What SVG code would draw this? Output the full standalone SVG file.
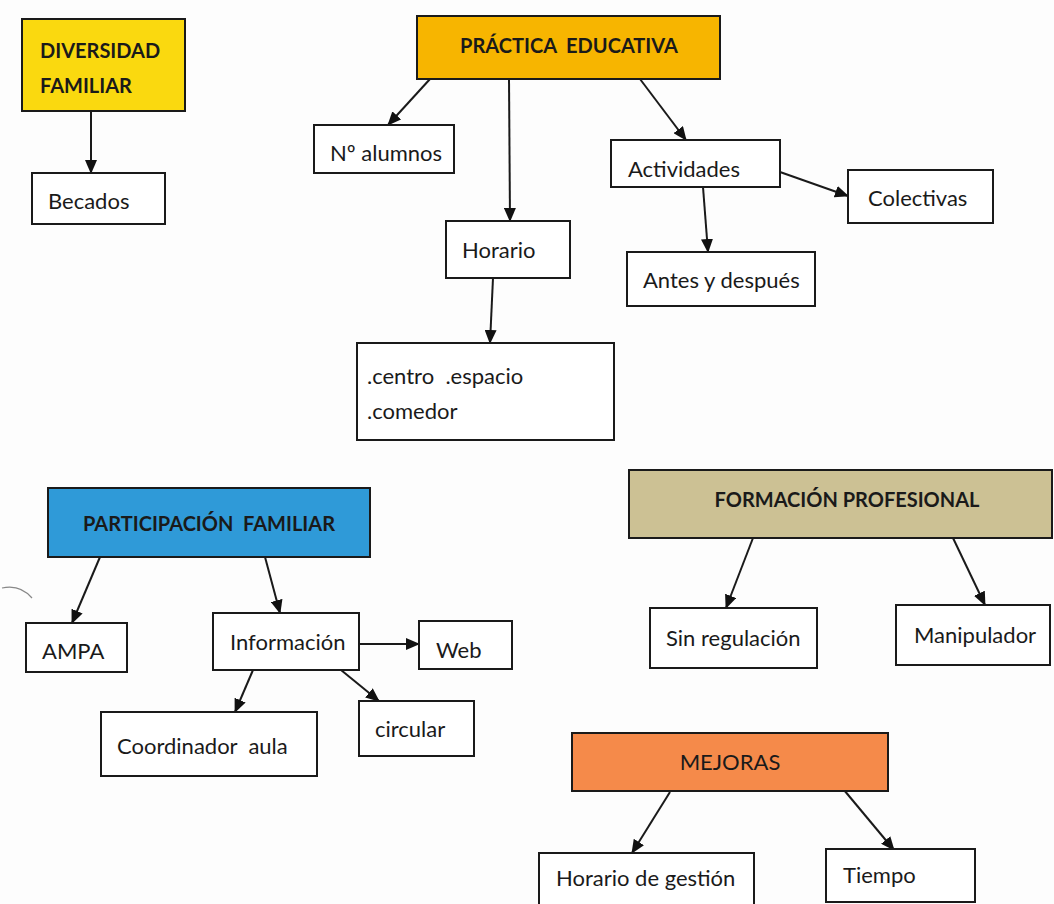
<svg xmlns="http://www.w3.org/2000/svg" width="1054" height="904" viewBox="0 0 1054 904">
<defs>
<marker id="ah" markerWidth="14" markerHeight="12" refX="13" refY="6" orient="auto" markerUnits="userSpaceOnUse">
<path d="M0,0 L14,6 L0,12 Z" fill="#111"/>
</marker>
<style>
.box{fill:#fff;stroke:#1a1a1a;stroke-width:2}
.t{font-family:Lato,"Open Sans","Liberation Sans",sans-serif;font-size:22px;fill:#1a1a1a;white-space:pre}
.h{font-family:Lato,"Open Sans","Liberation Sans",sans-serif;font-size:20px;font-weight:bold;fill:#1a1a1a;white-space:pre}
.a{stroke:#1a1a1a;stroke-width:2;fill:none;marker-end:url(#ah)}
</style>
</defs>
<rect width="1054" height="904" fill="#fdfdfd"/>
<path d="M2,588 Q20,584 32,598" stroke="#888" stroke-width="1.2" fill="none"/>
<g id="connectors">
<line class="a" x1="91" y1="111" x2="91" y2="173"/>
<line class="a" x1="430" y1="79" x2="388" y2="125"/>
<line class="a" x1="509" y1="79" x2="510" y2="221"/>
<line class="a" x1="640" y1="79" x2="686" y2="140"/>
<line class="a" x1="780" y1="172" x2="848" y2="196"/>
<line class="a" x1="703" y1="187" x2="708" y2="252"/>
<line class="a" x1="493" y1="278" x2="490" y2="343"/>
<line class="a" x1="100" y1="557" x2="72" y2="623"/>
<line class="a" x1="265" y1="557" x2="280" y2="613"/>
<line class="a" x1="359" y1="644" x2="419" y2="644"/>
<line class="a" x1="253" y1="670" x2="235" y2="712"/>
<line class="a" x1="341" y1="670" x2="379" y2="701"/>
<line class="a" x1="753" y1="538" x2="726" y2="608"/>
<line class="a" x1="953" y1="538" x2="985" y2="605"/>
<line class="a" x1="670" y1="792" x2="632" y2="853"/>
<line class="a" x1="844" y1="790" x2="894" y2="850"/>
</g>
<g id="diversidad">
<rect x="22" y="19" width="163" height="92" fill="#FAD90F" stroke="#1a1a1a" stroke-width="2"/>
<text class="h" x="40" y="58">DIVERSIDAD</text>
<text class="h" x="40" y="93">FAMILIAR</text>
</g>
<g id="becados">
<rect class="box" x="32" y="173" width="133" height="51"/>
<text class="t" x="48" y="209">Becados</text>
</g>
<g id="practica">
<rect x="417" y="16" width="303" height="63" fill="#F7B500" stroke="#1a1a1a" stroke-width="2"/>
<text class="h" x="569" y="53" text-anchor="middle">PRÁCTICA  EDUCATIVA</text>
</g>
<g id="alumnos">
<rect class="box" x="314" y="125" width="140" height="48"/>
<text class="t" x="330" y="161">Nº alumnos</text>
</g>
<g id="actividades">
<rect class="box" x="611" y="140" width="169" height="47"/>
<text class="t" x="628" y="177">Actividades</text>
</g>
<g id="colectivas">
<rect class="box" x="848" y="170" width="145" height="53"/>
<text class="t" x="868" y="206">Colectivas</text>
</g>
<g id="antes">
<rect class="box" x="627" y="252" width="188" height="54"/>
<text class="t" x="643" y="288">Antes y después</text>
</g>
<g id="horario">
<rect class="box" x="446" y="221" width="124" height="57"/>
<text class="t" x="462" y="258">Horario</text>
</g>
<g id="centro">
<rect class="box" x="357" y="343" width="257" height="97"/>
<text class="t" x="367" y="384">.centro  .espacio</text>
<text class="t" x="367" y="419">.comedor</text>
</g>
<g id="participacion">
<rect x="48" y="488" width="322" height="69" fill="#2F9AD8" stroke="#1a1a1a" stroke-width="2"/>
<text class="h" x="209" y="531" text-anchor="middle">PARTICIPACIÓN  FAMILIAR</text>
</g>
<g id="ampa">
<rect class="box" x="26" y="623" width="101" height="49"/>
<text class="t" x="42" y="659">AMPA</text>
</g>
<g id="informacion">
<rect class="box" x="213" y="613" width="146" height="57"/>
<text class="t" x="230" y="650">Información</text>
</g>
<g id="web">
<rect class="box" x="419" y="621" width="93" height="48"/>
<text class="t" x="436" y="658">Web</text>
</g>
<g id="coordinador">
<rect class="box" x="101" y="712" width="216" height="64"/>
<text class="t" x="117" y="754">Coordinador  aula</text>
</g>
<g id="circular">
<rect class="box" x="359" y="701" width="115" height="55"/>
<text class="t" x="375" y="737">circular</text>
</g>
<g id="formacion">
<rect x="629" y="470" width="423" height="68" fill="#CCC194" stroke="#1a1a1a" stroke-width="2"/>
<text class="h" x="847" y="507" text-anchor="middle">FORMACIÓN PROFESIONAL</text>
</g>
<g id="sinregulacion">
<rect class="box" x="650" y="608" width="167" height="60"/>
<text class="t" x="666" y="646">Sin regulación</text>
</g>
<g id="manipulador">
<rect class="box" x="896" y="605" width="154" height="60"/>
<text class="t" x="914" y="643">Manipulador</text>
</g>
<g id="mejoras">
<rect x="572" y="733" width="316" height="58" fill="#F58A4A" stroke="#1a1a1a" stroke-width="2"/>
<text class="t" x="730" y="770" text-anchor="middle">MEJORAS</text>
</g>
<g id="horariogestion">
<rect class="box" x="539" y="853" width="215" height="56"/>
<text class="t" x="556" y="886">Horario de gestión</text>
</g>
<g id="tiempo">
<rect class="box" x="826" y="849" width="149" height="53"/>
<text class="t" x="843" y="883">Tiempo</text>
</g>
</svg>
